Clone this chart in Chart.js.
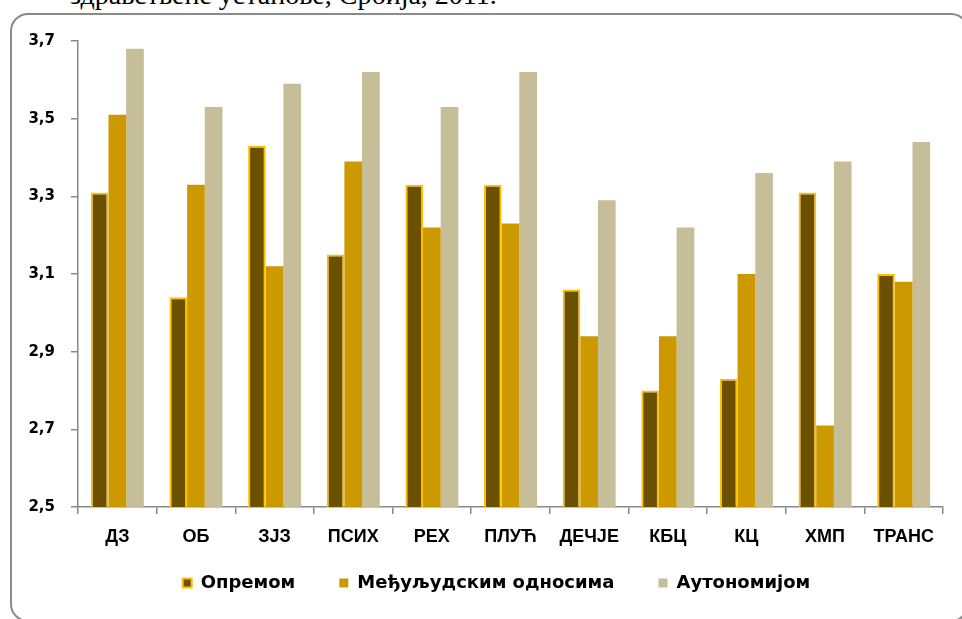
<!DOCTYPE html>
<html>
<head>
<meta charset="utf-8">
<script src="https://cdn.jsdelivr.net/npm/chart.js@4.4.1/dist/chart.umd.min.js"></script>
<style>
  html, body { margin: 0; padding: 0; background: #fff; overflow: hidden; }
  #wrap { position: relative; width: 962px; height: 619px; overflow: hidden; }
  #title {
    position: absolute; left: 70px; top: -19px;
    font: 28px "Liberation Serif", serif; line-height: 28px;
    color: #000; white-space: nowrap;
  }
  #frame {
    position: absolute; left: 10px; top: 13px; width: 955px; height: 605px;
    border: 2px solid #8a8a8a; border-radius: 18px;
  }
  #chart { position: absolute; left: 0; top: 0; }
</style>
</head>
<body>
<div id="wrap">
  <div id="title">здравствене установе, Србија, 2011.</div>
  <div id="frame"></div>
  <canvas id="chart" width="962" height="619"></canvas>
</div>
<script>
const categories = ["ДЗ", "ОБ", "ЗЈЗ", "ПСИХ", "РЕХ", "ПЛУЋ", "ДЕЧЈЕ", "КБЦ", "КЦ", "ХМП", "ТРАНС"];
const seriesNames = ["Опремом", "Међуљудским односима", "Аутономијом"];
const opremom = [3.31, 3.04, 3.43, 3.15, 3.33, 3.33, 3.06, 2.80, 2.83, 3.31, 3.10];
const odnosima = [3.51, 3.33, 3.12, 3.39, 3.22, 3.23, 2.94, 2.94, 3.10, 2.71, 3.08];
const autonomijom = [3.68, 3.53, 3.59, 3.62, 3.53, 3.62, 3.29, 3.22, 3.36, 3.39, 3.44];
const yTicks = [2.5, 2.7, 2.9, 3.1, 3.3, 3.5, 3.7];

const legendFont = 18;
const legendPad = 44;

// move the legend to where the original has it (centre x ~497, text y ~583)
const legendShift = {
  id: "legendShift",
  afterLayout: (chart) => {
    const lg = chart.legend;
    const h = lg.bottom - lg.top;
    lg.left = 50;
    lg.top = 583 - legendPad - legendFont / 2;
    lg.bottom = lg.top + h;
  },
};

window.onload = () => {
  const ctx = document.querySelector("#chart").getContext("2d");
  const axisColor = "#888888";
  const legendHeight = legendFont + legendPad + 10;

  new Chart(ctx, {
    type: "bar",
    data: {
      labels: categories,
      datasets: [
        {
          label: seriesNames[0],
          data: opremom,
          backgroundColor: "#6b5000",
          borderColor: "#ffc000",
          borderWidth: 2,
        },
        {
          label: seriesNames[1],
          data: odnosima,
          backgroundColor: "#cc9900",
          borderWidth: 0,
        },
        {
          label: seriesNames[2],
          data: autonomijom,
          backgroundColor: "#c6be98",
          borderWidth: 0,
        },
      ],
    },
    options: {
      responsive: false,
      animation: false,
      categoryPercentage: 0.674,
      barPercentage: 1.0,
      layout: {
        padding: { top: 41, left: 20, right: 19, bottom: 0 },
      },
      plugins: {
        tooltip: { enabled: false },
        legend: {
          position: "bottom",
          labels: {
            boxWidth: 9,
            boxHeight: 9,
            padding: legendPad,
            color: "#000",
            font: { family: "DejaVu Sans", weight: "bold", size: legendFont },
          },
        },
      },
      scales: {
        x: {
          grid: {
            display: true,
            drawOnChartArea: false,
            offset: true,
            tickLength: 7,
            color: axisColor,
            lineWidth: 1.5,
          },
          border: { color: axisColor, width: 1.5 },
          ticks: {
            color: "#000",
            padding: 12,
            maxRotation: 0,
            font: { family: "Liberation Sans", weight: "bold", size: 18 },
          },
          afterFit: (scale) => { scale.height = 619 - legendHeight - 507; },
        },
        y: {
          min: 2.5,
          max: 3.7,
          afterBuildTicks: (scale) => {
            scale.ticks = yTicks.map((v) => ({ value: v }));
          },
          grid: {
            display: true,
            drawOnChartArea: false,
            tickLength: 7,
            color: axisColor,
            lineWidth: 1.5,
          },
          border: { color: axisColor, width: 1.5 },
          ticks: {
            color: "#000",
            padding: 16,
            font: { family: "DejaVu Sans", weight: "bold", size: 15 },
            callback: (value) => value.toFixed(1).replace(".", ","),
          },
          afterFit: (scale) => { scale.width = 58; },
        },
      },
    },
    plugins: [legendShift],
  });
};
</script>
</body>
</html>
